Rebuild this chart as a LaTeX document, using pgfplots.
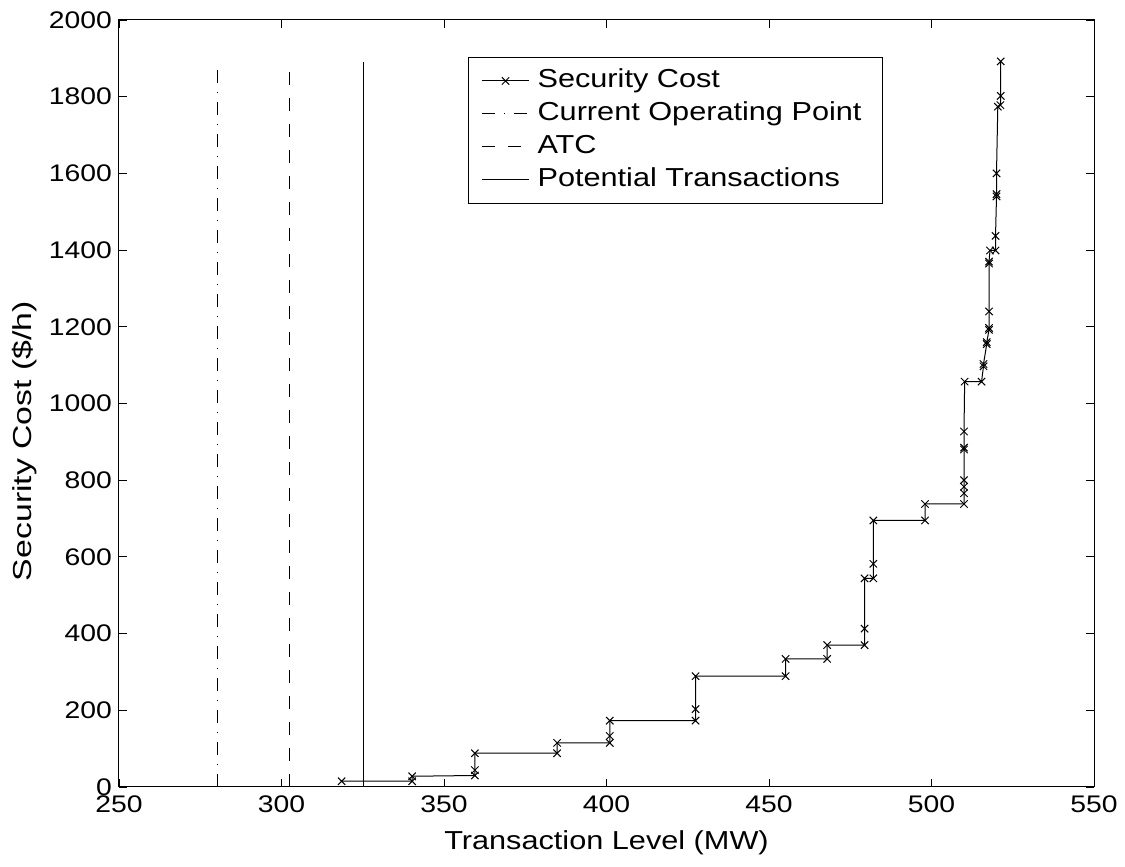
\documentclass[border=0pt]{standalone}
\usepackage{pgfplots}
\pgfplotsset{compat=1.18}
\usepackage{fontspec}
\setmainfont{Liberation Sans}
\newfontfamily\wfont{Liberation Sans}[FakeStretch=1.18]
\newfontfamily\yfont{Liberation Sans}[FakeStretch=1.3]
\begin{document}
\begin{tikzpicture}
\path[use as bounding box] (-59.5pt,-40pt) rectangle (503pt,393.5pt);
\begin{axis}[
  at={(0pt,0pt)}, anchor=south west,
  scale only axis, width=487.5pt, height=383.5pt,
  xmin=250, xmax=550, ymin=0, ymax=2000,
  xtick={250,300,...,550}, ytick={0,200,...,2000},
  tick align=inside, major tick length=4pt,
  tick style={black, line width=0.4pt},
  axis line style={line width=0.5pt},
  /pgf/number format/assume math mode=true,
  /pgf/number format/1000 sep={},
  ticklabel style={font=\wfont\fontsize{12}{14}\selectfont},
  xticklabel style={yshift=-1pt},
  xlabel={Transaction Level (MW)},
  ylabel={Security Cost (\$/h)},
  xlabel style={font=\wfont\fontsize{13}{15}\selectfont, yshift=-2pt},
  ylabel style={font=\yfont\fontsize{13}{15}\selectfont, at={(axis description cs:-0.0964,0.451)}, anchor=center},
  legend cell align=left,
  legend style={at={(0.358,0.9518)}, anchor=north west, draw=black, line width=0.5pt,
     font=\wfont\fontsize{13}{15}\selectfont, inner xsep=6.5pt, inner ysep=3.5pt,
     nodes={text height=9.5pt, text depth=3pt, inner ysep=2pt, inner xsep=4pt}},
  legend image code/.code={\draw[mark repeat=2,mark phase=2,#1] plot coordinates {(0pt,0pt) (11.75pt,0pt) (23.5pt,0pt)};},
]
\addplot[black, line width=0.5pt, mark=x, mark size=2.6pt, mark options={solid, line width=0.5pt}] coordinates {
(318.5,15) (340.2,15) (340.2,28) (359.5,30) (359.5,44) (359.5,88)
(384.8,88) (384.8,115) (401,115) (401,133) (401,173)
(427.4,173) (427.4,203) (427.4,289) (455.1,289) (455.1,334)
(467.9,334) (467.9,370) (479.4,370) (479.4,413) (479.4,544)
(482.1,544) (482.1,582) (482.1,695) (498.0,695) (498.0,738)
(510.0,738) (510.0,766) (510.0,783) (510.0,800) (510.0,880)
(510.0,885) (510.0,927) (510.2,1057) (515.4,1057) (516.0,1097)
(516.0,1103) (517.0,1155) (517.0,1160) (517.7,1192) (517.7,1197)
(517.7,1240) (517.7,1365) (517.7,1370) (518.0,1399) (519.7,1399)
(519.7,1437) (520.0,1540) (520.0,1546) (520.0,1600) (520.4,1774)
(521.2,1778) (521.3,1802) (521.3,1892)
};
\addlegendentry{Security Cost}
\addplot[black, line width=0.5pt, dash pattern=on 6.5pt off 4.5pt on 0.5pt off 4.5pt] coordinates {(280.2,0) (280.2,1875)};
\addlegendentry{Current Operating Point}
\addplot[black, line width=0.5pt, dash pattern=on 6.5pt off 6.5pt] coordinates {(302.6,0) (302.6,1876)};
\addlegendentry{ATC}
\addplot[black, line width=0.5pt] coordinates {(325.2,0) (325.2,1890)};
\addlegendentry{Potential Transactions}
\end{axis}
\end{tikzpicture}
\end{document}
